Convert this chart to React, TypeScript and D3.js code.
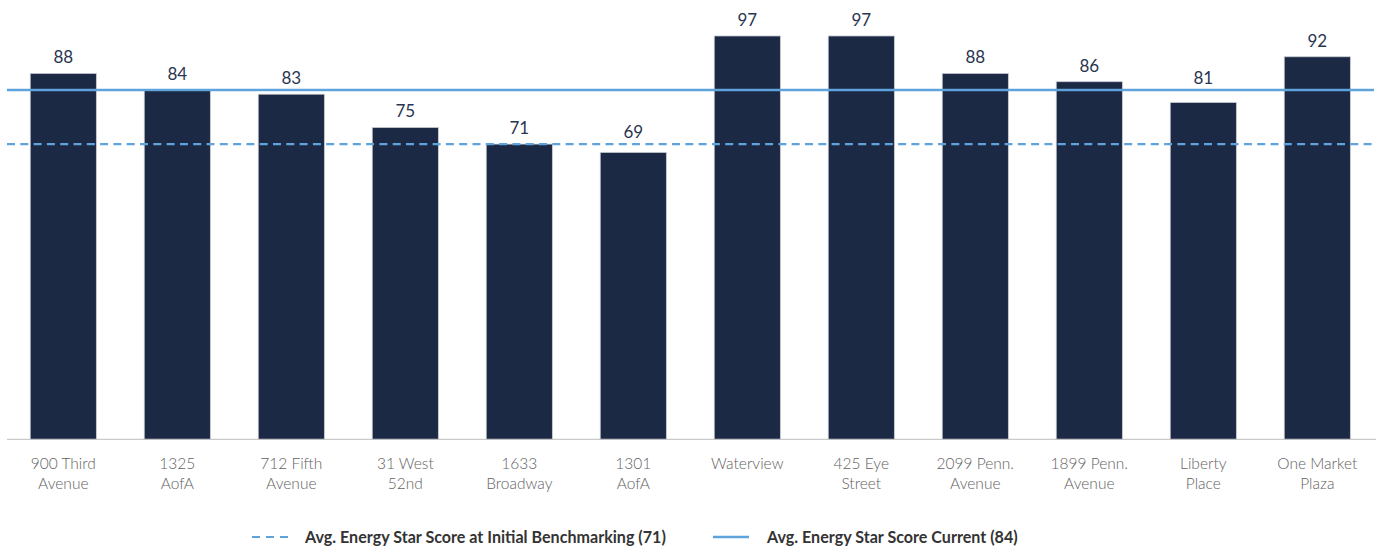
import React from "react";
import * as d3 from "d3";

const categories: string[][] = [
  ["900 Third", "Avenue"],
  ["1325", "AofA"],
  ["712 Fifth", "Avenue"],
  ["31 West", "52nd"],
  ["1633", "Broadway"],
  ["1301", "AofA"],
  ["Waterview"],
  ["425 Eye", "Street"],
  ["2099 Penn.", "Avenue"],
  ["1899 Penn.", "Avenue"],
  ["Liberty", "Place"],
  ["One Market", "Plaza"],
];
const scores: number[] = [88, 84, 83, 75, 71, 69, 97, 97, 88, 86, 81, 92];
const initialAvg = 71;
const currentAvg = 84;
const legendLabels = [
  "Avg. Energy Star Score at Initial Benchmarking (71)",
  "Avg. Energy Star Score Current (84)",
];

const W = 1376;
const H = 548;
const FONT = "Lato, 'Open Sans', sans-serif";
const BAR = "#1b2945";
const LINE = "#5fa3dc";

export default function App() {
  const ids = categories.map((_, i) => String(i));
  const x = d3.scaleBand<string>().domain(ids).range([6.3, 1374.3]).paddingInner(0.42).paddingOuter(0.21);
  const y = d3.scaleLinear().domain([0, 100]).range([439.3, 23.5]);
  const bw = x.bandwidth();
  const lineYs = [y(currentAvg), y(initialAvg)];
  const labelY = (v: number) => {
    let b = y(v) - 10;
    for (const ly of lineYs) {
      if (ly >= b - 14 && ly <= b + 4) b = Math.min(b, ly - 6);
    }
    return b;
  };
  return (
    <svg
      width={W}
      height={H}
      style={{ position: "absolute", left: 0, top: 0, background: "#fff" }}
      fontFamily={FONT}
    >
      {scores.map((v, i) => (
        <g key={i}>
          <rect
            x={x(ids[i])!}
            y={y(v)}
            width={bw}
            height={y(0) - y(v)}
            fill={BAR}
            stroke="#c9ccd2"
            strokeWidth={0.8}
          />
          <text
            x={x(ids[i])! + bw / 2}
            y={labelY(v)}
            textAnchor="middle"
            fontSize={17}
            fill="#2a3550"
          >
            {v}
          </text>
          {categories[i].map((line, j) => (
            <text
              key={j}
              x={x(ids[i])! + bw / 2}
              y={468.5 + j * 20}
              textAnchor="middle"
              fontSize={15.5}
              fontWeight={300}
              fill="#626262"
            >
              {line}
            </text>
          ))}
        </g>
      ))}
      <line x1={7} x2={1376} y1={y(0)} y2={y(0)} stroke="#bdbdbd" strokeWidth={1} />
      <line x1={7} x2={1374} y1={y(currentAvg)} y2={y(currentAvg)} stroke={LINE} strokeWidth={2.5} />
      <line
        x1={7}
        x2={1374}
        y1={y(initialAvg)}
        y2={y(initialAvg)}
        stroke={LINE}
        strokeWidth={2.2}
        strokeDasharray="8,5.3"
      />
      <g>
        <line x1={252} x2={288} y1={537} y2={537} stroke={LINE} strokeWidth={2.2} strokeDasharray="8,6" />
        <text x={305} y={542.5} fontSize={16.1} fontWeight="bold" fill="#333">
          {legendLabels[0]}
        </text>
        <line x1={713} x2={749} y1={537} y2={537} stroke={LINE} strokeWidth={2.5} />
        <text x={767} y={542.5} fontSize={16.1} fontWeight="bold" fill="#333">
          {legendLabels[1]}
        </text>
      </g>
    </svg>
  );
}
